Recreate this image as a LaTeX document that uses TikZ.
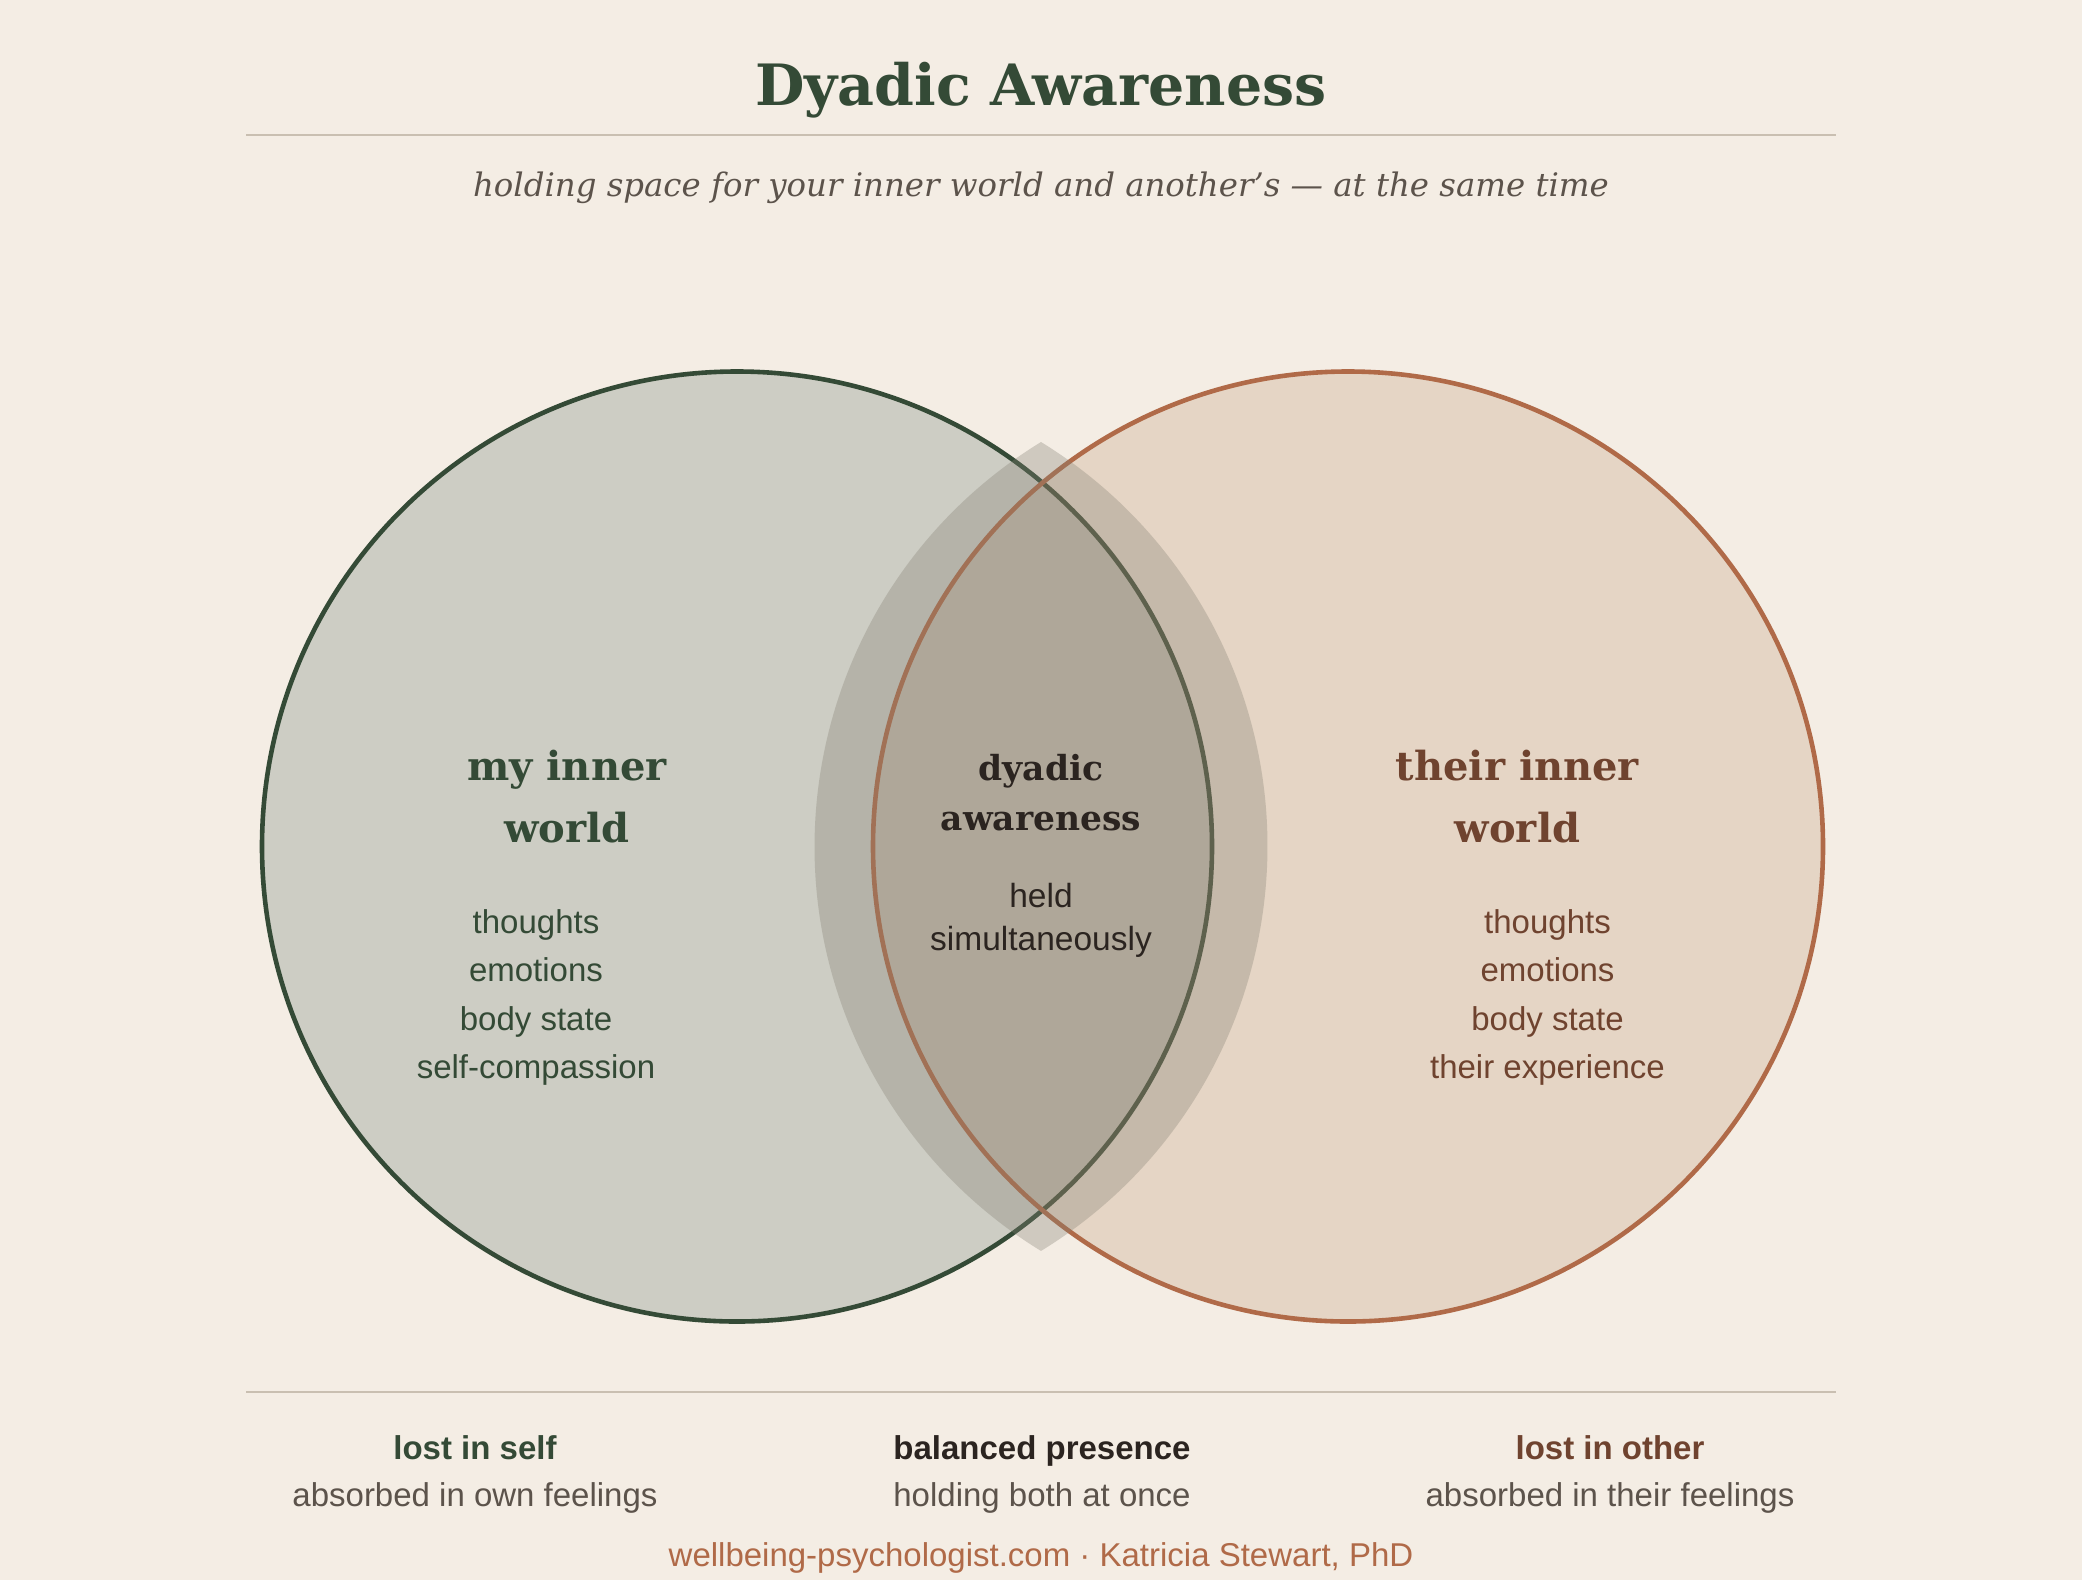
\documentclass[tikz,border=0pt]{standalone}
\usepackage{fontspec}
\setmainfont{DejaVu Serif}
\newfontfamily\sansf{Liberation Sans}
\definecolor{bgc}{HTML}{F4EDE4}
\definecolor{greenc}{HTML}{344A36}
\definecolor{rustc}{HTML}{B06A48}
\definecolor{browntxt}{HTML}{6F432F}
\definecolor{darktxt}{HTML}{2B2420}
\definecolor{graytxt}{HTML}{5C534B}
\definecolor{rulec}{HTML}{C9BFB1}
\definecolor{leftfill}{RGB}{49,77,72}
\definecolor{rightfill}{RGB}{169,117,77}
\definecolor{lensc}{RGB}{133,129,116}
\tikzset{
  every node/.style={inner sep=0pt, outer sep=0pt, anchor=base},
  titlef/.style={font=\fontsize{57}{62}\selectfont\bfseries, text=greenc},
  subf/.style={font=\fontsize{32.4}{37}\selectfont\itshape, text=graytxt},
  headg/.style={font=\fontsize{40}{46}\selectfont\bfseries, text=greenc},
  headr/.style={font=\fontsize{40}{46}\selectfont\bfseries, text=browntxt},
  headc/.style={font=\fontsize{34.5}{40}\selectfont\bfseries, text=darktxt},
  itemg/.style={font=\sansf\fontsize{33}{38}\selectfont, text=greenc},
  itemr/.style={font=\sansf\fontsize{33}{38}\selectfont, text=browntxt},
  itemc/.style={font=\sansf\fontsize{33.5}{38}\selectfont, text=darktxt},
  botbold/.style={font=\sansf\fontsize{33}{38}\selectfont\bfseries},
  botreg/.style={font=\sansf\fontsize{33}{38}\selectfont, text=graytxt},
  footf/.style={font=\sansf\fontsize{33}{38}\selectfont, text=rustc},
  rulestyle/.style={draw=rulec, line width=2.5pt},
  ringstyle/.style={line width=4.6pt},
}
\begin{document}
\begin{tikzpicture}[x=1pt,y=-1pt]
\useasboundingbox (0,0) rectangle (2082,1580);
\fill[bgc] (0,0) rectangle (2082,1580);

% title and subtitle
\node[titlef] (title) at (1041,105) {Dyadic Awareness};
\coordinate (ruleTa) at (246,135);
\coordinate (ruleTb) at (1836,135);
\draw[rulestyle] (ruleTa) -- (ruleTb);
\node[subf] (subtitle) at (1041,196) {holding space for your inner world and another's — at the same time};

% circles
\fill[leftfill, fill opacity=0.2] (737,846.5) circle[radius=475];
\draw[greenc, ringstyle] (737,846.5) circle[radius=475];
\fill[rightfill, fill opacity=0.2] (1348,846.5) circle[radius=475];
\draw[rustc, ringstyle] (1348,846.5) circle[radius=475];

% lens
\fill[lensc, fill opacity=0.33]
  (1041,442) arc[start angle=238.48, end angle=121.52, radius=474.5]
  arc[start angle=58.48, end angle=-58.48, radius=474.5] -- cycle;

% left texts
\node[headg] (lh1) at (567,780) {my inner};
\node[headg] (lh2) at (567,842) {world};
\node[itemg] (li1) at (536,933) {thoughts};
\node[itemg] (li2) at (536,981.5) {emotions};
\node[itemg] (li3) at (536,1030) {body state};
\node[itemg] (li4) at (536,1078.5) {self-compassion};

% right texts
\node[headr] (rh1) at (1517.5,780) {their inner};
\node[headr] (rh2) at (1517.5,842) {world};
\node[itemr] (ri1) at (1547.5,933) {thoughts};
\node[itemr] (ri2) at (1547.5,981.5) {emotions};
\node[itemr] (ri3) at (1547.5,1030) {body state};
\node[itemr] (ri4) at (1547.5,1078.5) {their experience};

% center texts
\node[headc] (ch1) at (1041,780) {dyadic};
\node[headc] (ch2) at (1041,830) {awareness};
\node[itemc] (ci1) at (1041,907) {held};
\node[itemc] (ci2) at (1041,950) {simultaneously};

% bottom
\coordinate (ruleBa) at (246,1392);
\coordinate (ruleBb) at (1836,1392);
\draw[rulestyle] (ruleBa) -- (ruleBb);
\node[botbold, text=greenc] (b1) at (475,1459) {lost in self};
\node[botreg] (b2) at (475,1506) {absorbed in own feelings};
\node[botbold, text=darktxt] (b3) at (1042,1459) {balanced presence};
\node[botreg] (b4) at (1042,1506) {holding both at once};
\node[botbold, text=browntxt] (b5) at (1610,1459) {lost in other};
\node[botreg] (b6) at (1610,1506) {absorbed in their feelings};
\node[footf] (foot) at (1041,1566) {wellbeing-psychologist.com · Katricia Stewart, PhD};
\end{tikzpicture}
\end{document}
